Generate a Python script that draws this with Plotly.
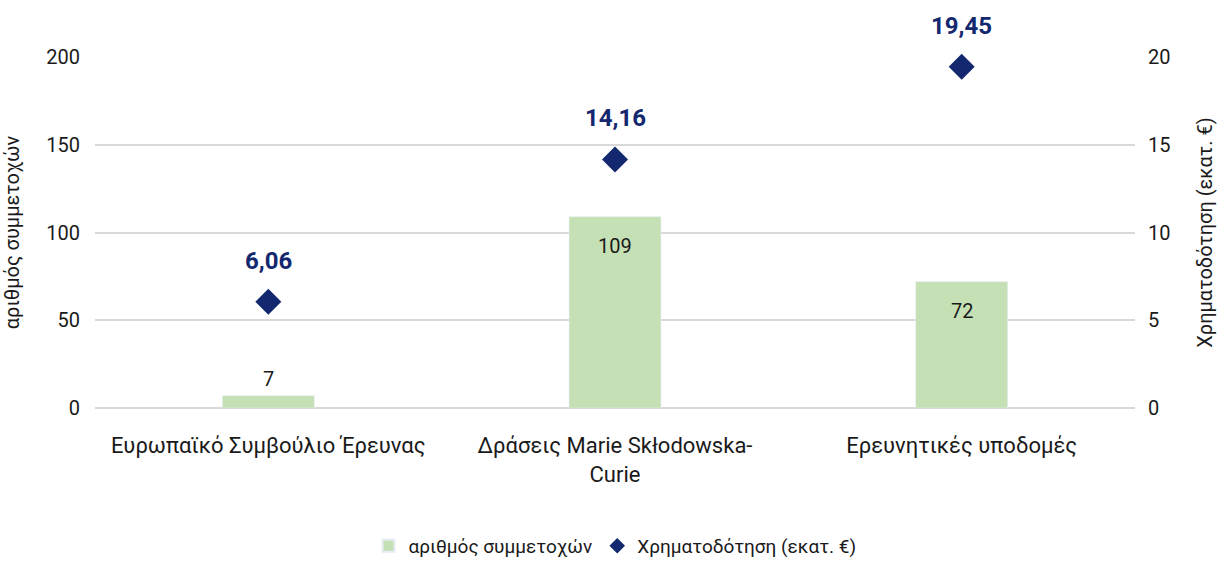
import plotly.graph_objects as go

categories = ["Ευρωπαϊκό Συμβούλιο Έρευνας", "Δράσεις Marie Skłodowska-<br>Curie", "Ερευνητικές υποδομές"]
participations = [7, 109, 72]
funding = [6.06, 14.16, 19.45]
bar_name = "αριθμός συμμετοχών"
marker_name = "Χρηματοδότηση (εκατ. €)"

font_family = "Roboto, 'Liberation Sans', sans-serif"
navy = "#13286E"

fig = go.Figure()
fig.add_trace(go.Bar(
    x=categories, y=participations, name=bar_name,
    marker_color="#C5E0B4", width=0.265,
))
fig.add_trace(go.Scatter(
    x=categories, y=funding, name=marker_name, yaxis="y2",
    mode="markers",
    marker=dict(symbol="diamond", size=20, color=navy),
    cliponaxis=False,
))
for c, v in zip(categories, participations):
    outside = v < 20
    fig.add_annotation(
        x=c, y=v, xref="x", yref="y",
        text=str(v), showarrow=False,
        yanchor="bottom" if outside else "top",
        yshift=3 if outside else -15,
        font=dict(size=20, color="#1a1a1a", family=font_family),
    )
for c, v in zip(categories, funding):
    fig.add_annotation(
        x=c, y=v, xref="x", yref="y2",
        text=f"<b>{v:.2f}</b>".replace(".", ","),
        showarrow=False, yshift=41,
        font=dict(size=24, color=navy, family=font_family),
    )

fig.update_layout(
    width=1217, height=562,
    margin=dict(l=95, r=82, t=57, b=154, autoexpand=False),
    paper_bgcolor="white", plot_bgcolor="white",
    font=dict(family=font_family, size=19, color="#1a1a1a"),
    showlegend=True,
    legend=dict(orientation="h", x=0.5, xanchor="center", y=-0.393, yanchor="middle",
                font=dict(size=19), itemsizing="constant", itemwidth=30,
                bgcolor="rgba(0,0,0,0)"),
    xaxis=dict(showgrid=False, showline=False, ticks="", tickfont=dict(size=22),
               automargin=False, ticklabelstandoff=22),
    yaxis=dict(range=[0, 200], dtick=50, showgrid=True, gridcolor="#D9D9D9", gridwidth=1.5,
               zeroline=True, zerolinecolor="#D9D9D9", zerolinewidth=1.5,
               title=dict(text=bar_name, font=dict(size=20), standoff=36),
               ticks="", tickfont=dict(size=20), automargin=False, ticklabelstandoff=14),
    yaxis2=dict(range=[0, 20], dtick=5, overlaying="y", side="right", showgrid=False,
                zeroline=False, ticks="", automargin=False, ticklabelstandoff=12,
                title=dict(text=marker_name, font=dict(size=20), standoff=38),
                tickfont=dict(size=20)),
)

fig.write_html("out.html", config={"displayModeBar": False},
               post_script="document.body.style.margin='0';document.body.style.overflow='hidden';")
